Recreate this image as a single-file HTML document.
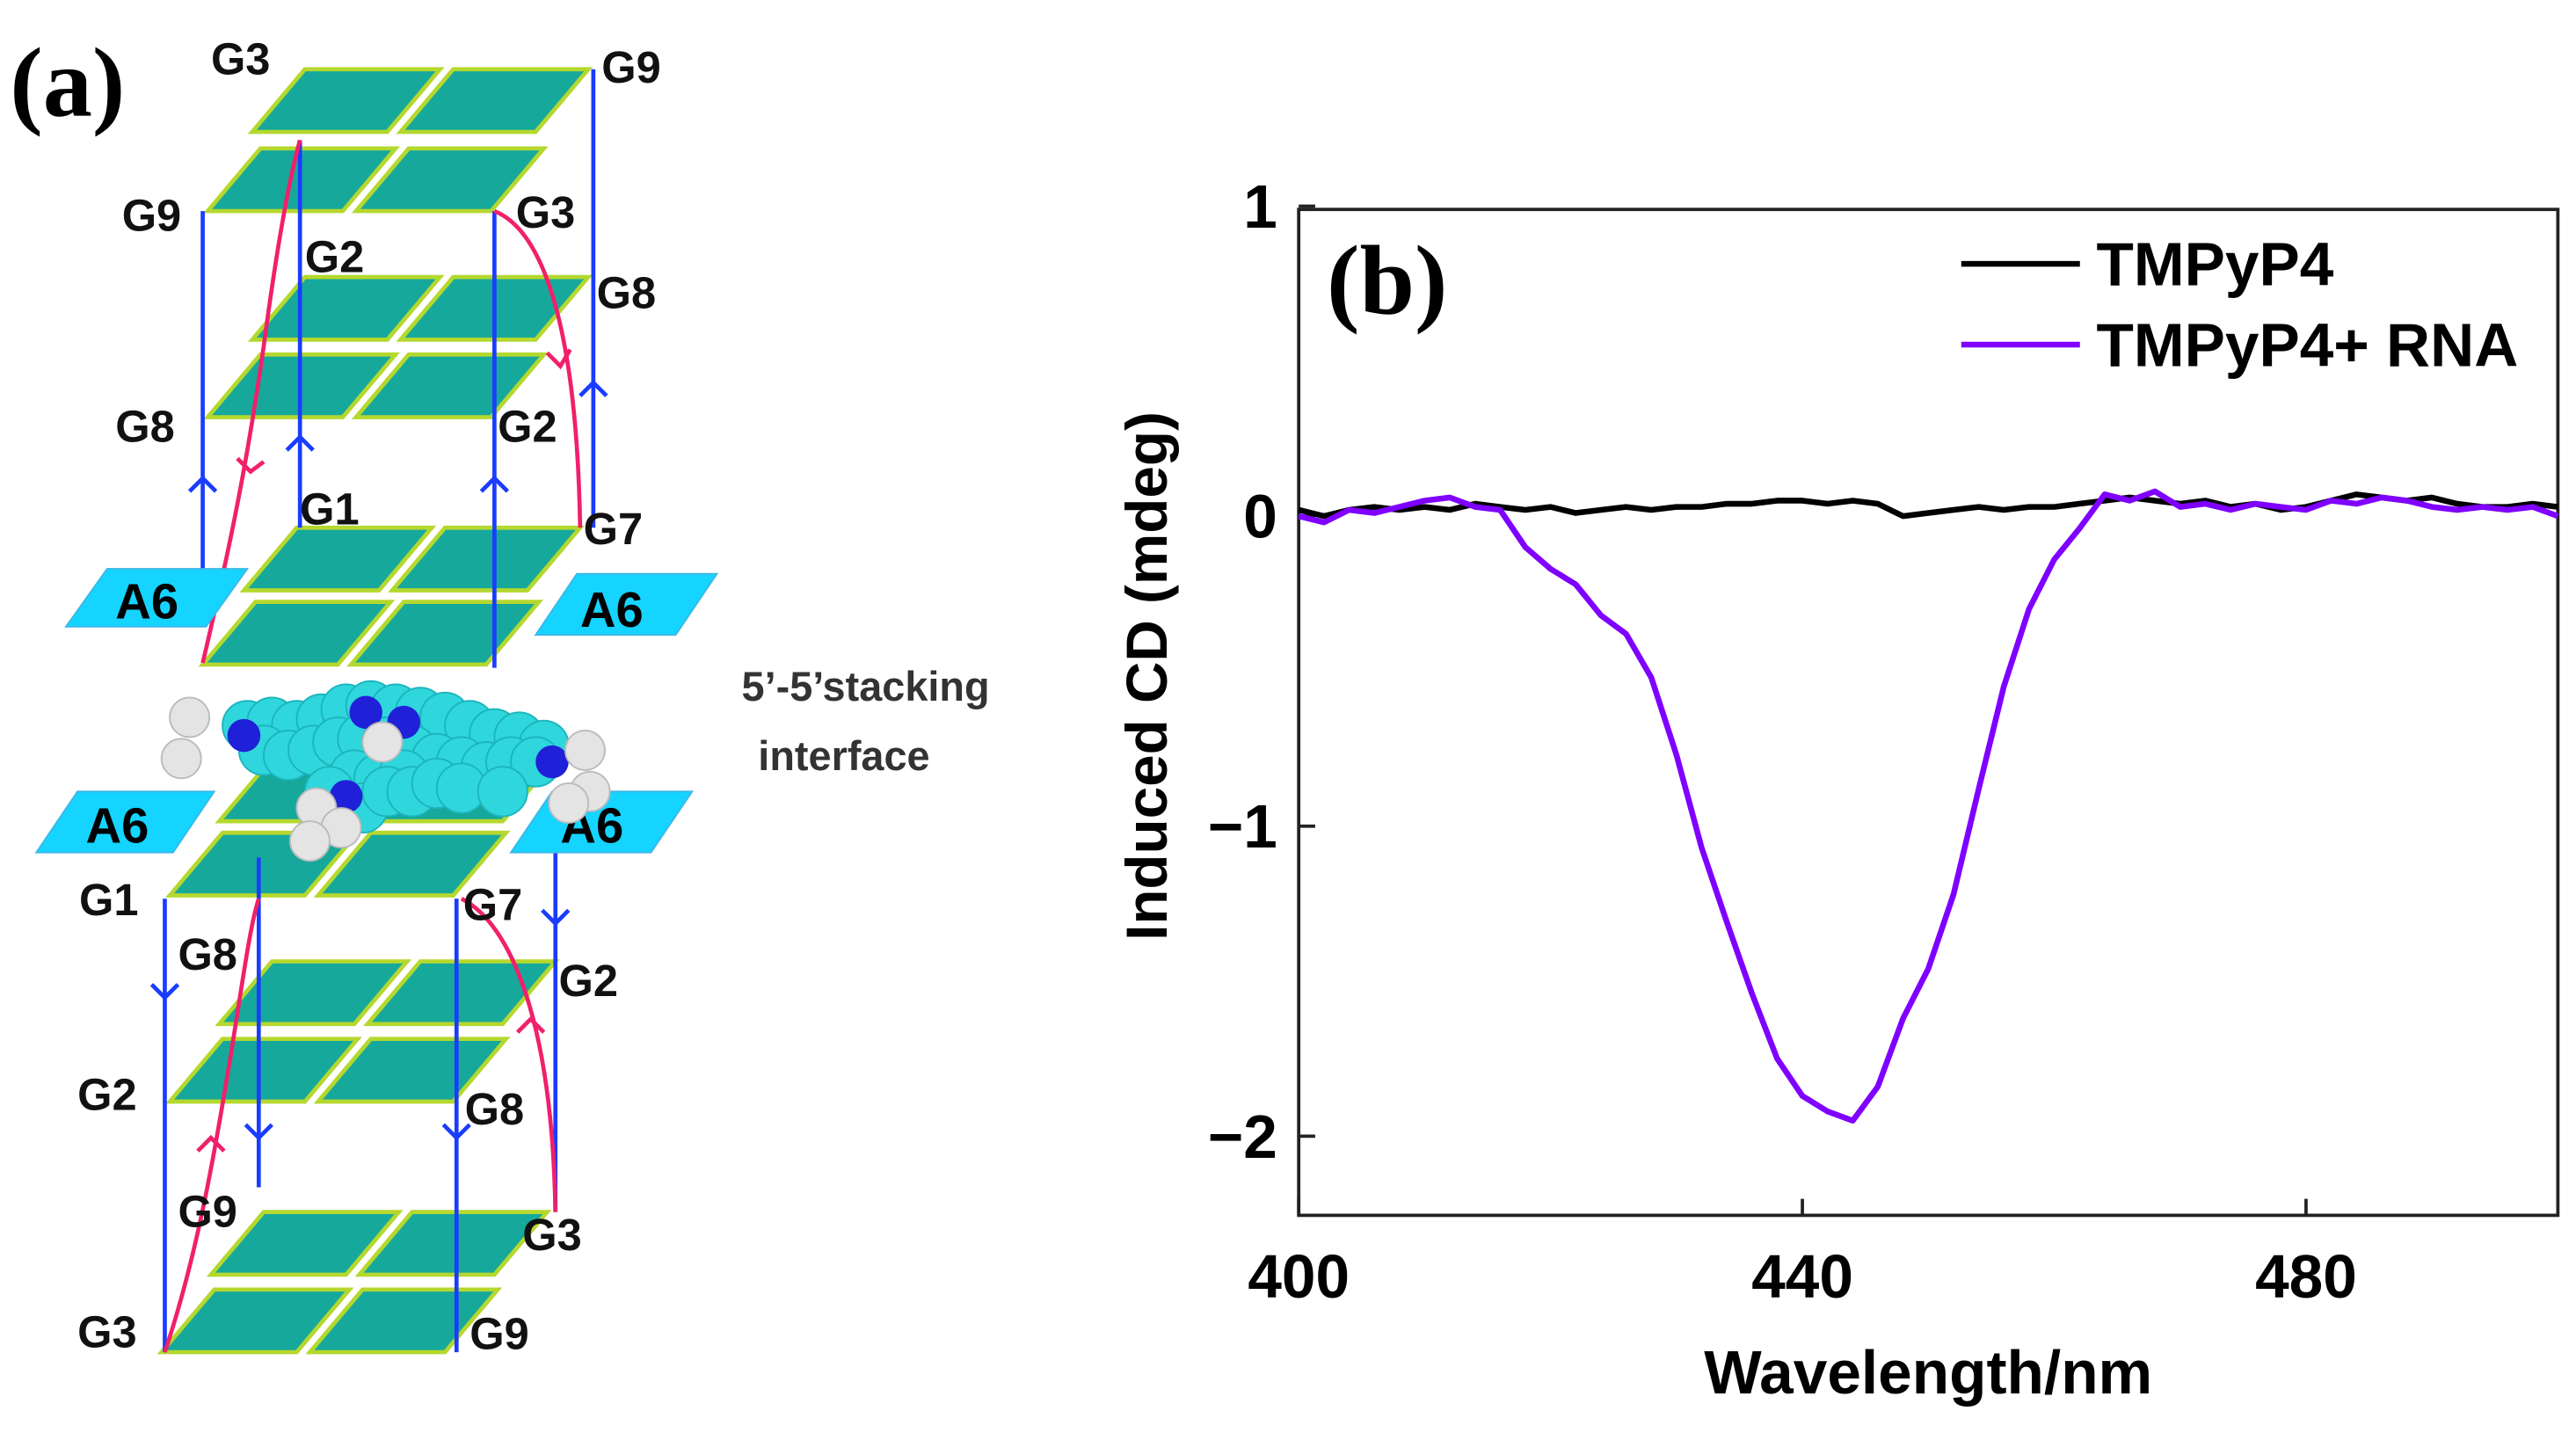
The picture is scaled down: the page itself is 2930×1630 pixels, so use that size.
<!DOCTYPE html>
<html><head><meta charset="utf-8">
<style>
html,body{margin:0;padding:0;background:#fff;}
svg{display:block;}
text{font-family:"Liberation Sans",sans-serif;font-weight:bold;}
.lab{font-size:27px;fill:#111;}
.plate{fill:#17a89c;stroke:#b5d82e;stroke-width:2.5;}
.blue{stroke:#1a3cff;stroke-width:2.5;fill:none;}
.pink{stroke:#f0206a;stroke-width:2.5;fill:none;}
</style></head>
<body>
<svg id="fig" width="2930" height="1630" viewBox="0 0 1563 869" preserveAspectRatio="none">
<g id="panelA">
  <text x="6" y="70" style="font-family:'Liberation Serif',serif;font-size:60px">(a)</text>
  <g id="plates"></g>
  <g>
    <line class="blue" x1="123" y1="128" x2="123" y2="345"/>
    <line class="blue" x1="182" y1="85" x2="182" y2="320"/>
    <line class="blue" x1="300" y1="128" x2="300" y2="405"/>
    <line class="blue" x1="360" y1="42" x2="360" y2="320"/>
    <line class="blue" x1="100" y1="545" x2="100" y2="820"/>
    <line class="blue" x1="157" y1="520" x2="157" y2="720"/>
    <line class="blue" x1="277" y1="545" x2="277" y2="820"/>
    <line class="blue" x1="337" y1="510" x2="337" y2="735"/>
    <path class="blue" d="M115 298 L123 290 L131 298 M174 273 L182 265 L190 273 M292 298 L300 290 L308 298 M352 240 L360 232 L368 240"/>
    <path class="blue" d="M92 597 L100 605 L108 597 M149 682 L157 690 L165 682 M269 682 L277 690 L285 682 M329 552 L337 560 L345 552"/>
    <path class="pink" d="M123 402 C140 330 150 280 160 210 C168 150 175 110 182 85"/>
    <path class="pink" d="M300 128 C330 140 350 200 352 320"/>
    <path class="pink" d="M100 820 C120 760 130 700 140 640 C148 590 152 560 157 545"/>
    <path class="pink" d="M280 545 C310 560 335 620 337 735"/>
    <path class="pink" d="M144 278 L152 286 L160 280 M332 214 L340 222 L346 212 M120 698 L128 690 L136 698 M314 626 L322 618 L330 626"/>
  </g>
  <g>
    <polygon points="65,345 150,345 125,380 40,380" fill="#15d4ff" stroke="#3ab8e8"/>
    <text x="70" y="375" style="font-size:30px">A6</text>
    <polygon points="350,348 435,348 410,385 325,385" fill="#15d4ff" stroke="#3ab8e8"/>
    <text x="352" y="380" style="font-size:30px">A6</text>
    <polygon points="47,480 130,480 105,517 22,517" fill="#15d4ff" stroke="#3ab8e8"/>
    <text x="52" y="511" style="font-size:30px">A6</text>
    <polygon points="335,480 420,480 395,517 310,517" fill="#15d4ff" stroke="#3ab8e8"/>
    <text x="340" y="511" style="font-size:30px">A6</text>
  </g>
  <g id="porph"></g>
  <g>
    <text class="lab" x="128" y="45">G3</text><text class="lab" x="365" y="50">G9</text>
    <text class="lab" x="74" y="140">G9</text><text class="lab" x="185" y="165">G2</text>
    <text class="lab" x="313" y="138">G3</text><text class="lab" x="362" y="187">G8</text>
    <text class="lab" x="70" y="268">G8</text><text class="lab" x="302" y="268">G2</text>
    <text class="lab" x="182" y="318">G1</text><text class="lab" x="354" y="330">G7</text>
    <text class="lab" x="48" y="555">G1</text><text class="lab" x="108" y="588">G8</text>
    <text class="lab" x="281" y="558">G7</text><text class="lab" x="339" y="604">G2</text>
    <text class="lab" x="47" y="673">G2</text><text class="lab" x="282" y="682">G8</text>
    <text class="lab" x="108" y="744">G9</text><text class="lab" x="317" y="758">G3</text>
    <text class="lab" x="47" y="817">G3</text><text class="lab" x="285" y="818">G9</text>
  </g>
  <text x="450" y="425" style="font-size:25px;fill:#333">5’-5’stacking</text>
  <text x="460" y="467" style="font-size:25px;fill:#333">interface</text>
</g>

<g id="panelB">
  <rect x="788" y="127" width="764" height="610" fill="none" stroke="#222" stroke-width="2"/>
  <g id="xticks"></g>
  <g id="yticks"></g>
  <g id="series"></g>
  <text x="1170" y="845" text-anchor="middle" style="font-size:37px">Wavelength/nm</text>
  <text transform="translate(708,410) rotate(-90)" text-anchor="middle" style="font-size:35px">Induced CD (mdeg)</text>
  <text x="805" y="190" style="font-family:'Liberation Serif',serif;font-size:60px">(b)</text>
  <g>
    <line x1="1190" y1="160" x2="1262" y2="160" stroke="#000" stroke-width="3.5"/>
    <text x="1272" y="173" style="font-size:37px">TMPyP4</text>
    <line x1="1190" y1="209" x2="1262" y2="209" stroke="#7f00ff" stroke-width="3.5"/>
    <text x="1272" y="222" style="font-size:37px">TMPyP4+ RNA</text>
  </g>
</g>
</svg>
<script>
const wavelengths = [400,402,404,406,408,410,412,414,416,418,420,422,424,426,428,430,432,434,436,438,440,442,444,446,448,450,452,454,456,458,460,462,464,466,468,470,472,474,476,478,480,482,484,486,488,490,492,494,496,498,500];
const cdTMPyP4 = [0.02,0.0,0.02,0.03,0.02,0.03,0.02,0.04,0.03,0.02,0.03,0.01,0.02,0.03,0.02,0.03,0.03,0.04,0.04,0.05,0.05,0.04,0.05,0.04,0.0,0.01,0.02,0.03,0.02,0.03,0.03,0.04,0.05,0.06,0.05,0.04,0.05,0.03,0.04,0.02,0.03,0.05,0.07,0.06,0.05,0.06,0.04,0.03,0.03,0.04,0.03];
const cdRNA = [0.0,-0.02,0.02,0.01,0.03,0.05,0.06,0.03,0.02,-0.1,-0.17,-0.22,-0.32,-0.38,-0.52,-0.77,-1.07,-1.31,-1.54,-1.75,-1.87,-1.92,-1.95,-1.84,-1.62,-1.46,-1.22,-0.88,-0.55,-0.3,-0.14,-0.04,0.07,0.05,0.08,0.03,0.04,0.02,0.04,0.03,0.02,0.05,0.04,0.06,0.05,0.03,0.02,0.03,0.02,0.03,0.0];
const xTicks = [400,440,480];
const yTicks = [1,0,-1,-2];
const yTickLabels = ["1","0","\u22121","\u22122"];

const NS = "http://www.w3.org/2000/svg";
function xs(v){ return 788 + (v-400)/100*764; }
function ys(v){ return 313 - v*188; }
function mk(tag, attrs, parent){ const e=document.createElementNS(NS,tag); for(const k in attrs) e.setAttribute(k,attrs[k]); parent.appendChild(e); return e; }

const xg=document.getElementById('xticks');
xTicks.forEach(t=>{
  const l=mk('line',{x1:xs(t),x2:xs(t),y1:737,y2:727,stroke:'#222','stroke-width':2},xg);
  
  
  const tx=mk('text',{x:xs(t),y:787,'text-anchor':'middle','font-size':37},xg);
  tx.textContent=t;
  
  
});
const yg=document.getElementById('yticks');
yTicks.forEach((t,i)=>{
  const l=mk('line',{x1:788,x2:798,y1:ys(t),y2:ys(t),stroke:'#222','stroke-width':2},yg);
  
  
  const tx=mk('text',{x:775,y:ys(t)+13,'text-anchor':'end','font-size':37},yg);
  tx.textContent=yTickLabels[i];
  
  
});
const sg=document.getElementById('series');
function line(vals,color,name){
  const d=vals.map((v,i)=>(i?'L':'M')+xs(wavelengths[i]).toFixed(1)+' '+ys(v).toFixed(1)).join(' ');
  const p=mk('path',{d:d,fill:'none',stroke:color,'stroke-width':3.5,'stroke-linejoin':'round'},sg);
  
  
}
line(cdTMPyP4,'#000','series-tmpyp4');
line(cdRNA,'#7f00ff','series-tmpyp4-rna');

const pg=document.getElementById('plates');
const rows=[[185,42],[158,90],[185,168],[158,215],[180,320],[155,365],[165,460],[135,505],[165,583],[135,630],[160,735],[130,782]];
rows.forEach(r=>{
  [0,90].forEach(off=>{
    const x=r[0]+off,y=r[1];
    const p=mk('polygon',{points:`${x},${y} ${x+82},${y} ${x+50},${y+38} ${x-32},${y+38}`,class:'plate'},pg);
    
    
  });
});
const mg=document.getElementById('porph');
const cyan=[[150,440],[165,438],[180,440],[195,436],[210,430],[225,428],[240,430],[255,432],[270,435],[285,440],[300,445],[315,447],[330,452],[160,455],[175,458],[190,455],[205,450],[220,448],[235,450],[250,455],[265,460],[280,462],[295,465],[310,462],[325,462],[215,470],[230,472],[245,470],[200,480],[220,490],[235,480],[250,480],[265,475],[280,478],[305,480]];
cyan.forEach(c=>{ const e=mk('circle',{cx:c[0],cy:c[1],r:15,fill:'#2fd6dc',stroke:'#1cb4bc','stroke-width':1},mg);
  
   });
const blue=[[148,446],[222,432],[245,438],[335,462],[210,483]];
blue.forEach(c=>{ const e=mk('circle',{cx:c[0],cy:c[1],r:10,fill:'#1f20d8'},mg);
  
   });
const white=[[115,435],[110,460],[232,450],[355,455],[358,480],[345,487],[192,490],[207,502],[188,510]];
white.forEach(c=>{ const e=mk('circle',{cx:c[0],cy:c[1],r:12,fill:'#e4e4e4',stroke:'#bbb','stroke-width':1},mg);
  
   });
</script>
</body></html>
